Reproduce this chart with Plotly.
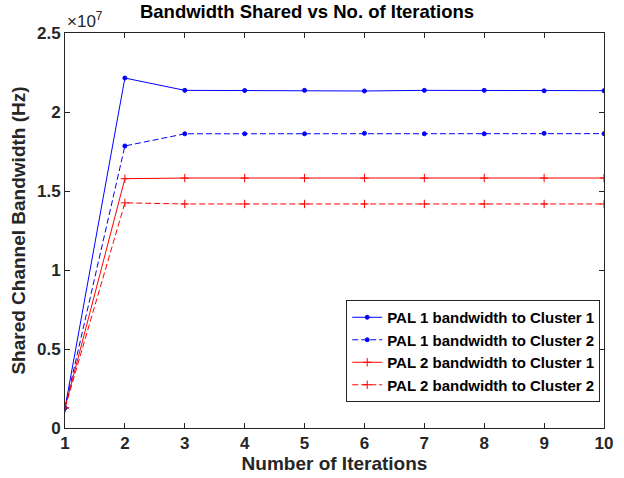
import plotly.graph_objects as go

iterations = [1, 2, 3, 4, 5, 6, 7, 8, 9, 10]
pal1_c1 = [1.27e6, 2.215e7, 2.137e7, 2.136e7, 2.137e7, 2.133e7, 2.137e7, 2.137e7, 2.134e7, 2.135e7]
pal1_c2 = [1.27e6, 1.785e7, 1.862e7, 1.862e7, 1.862e7, 1.865e7, 1.862e7, 1.862e7, 1.865e7, 1.863e7]
pal2_c1 = [1.27e6, 1.578e7, 1.582e7, 1.582e7, 1.582e7, 1.582e7, 1.582e7, 1.582e7, 1.582e7, 1.582e7]
pal2_c2 = [1.27e6, 1.425e7, 1.418e7, 1.418e7, 1.418e7, 1.418e7, 1.418e7, 1.418e7, 1.418e7, 1.418e7]
names = ["PAL 1 bandwidth to Cluster 1", "PAL 1 bandwidth to Cluster 2",
         "PAL 2 bandwidth to Cluster 1", "PAL 2 bandwidth to Cluster 2"]
ytick_vals = [0, 5e6, 1e7, 1.5e7, 2e7, 2.5e7]
ytick_text = ["0", "0.5", "1", "1.5", "2", "2.5"]

styles = [
    ("#0000ff", "solid", "circle", 4),
    ("#0000ff", "6px,3px", "circle", 4),
    ("#ff0000", "solid", "cross-thin-open", 6),
    ("#ff0000", "6px,3px", "cross-thin-open", 6),
]

fig = go.Figure()
for vals, name, (c, d, sym, sz) in zip([pal1_c1, pal1_c2, pal2_c1, pal2_c2], names, styles):
    fig.add_trace(go.Scatter(
        x=iterations, y=vals, name=name, mode="lines+markers",
        line=dict(color=c, width=1, dash=d),
        marker=dict(color=c, symbol=sym, size=sz, line=dict(color=c, width=1)),
    ))

axis_common = dict(
    showline=True, linecolor="#262626", linewidth=1, mirror="ticks",
    ticks="inside", ticklen=5, tickcolor="#262626", showgrid=False, zeroline=False,
    automargin=False,
    tickfont=dict(family="Liberation Sans", size=17, color="#262626", weight="bold"),
)

fig.update_layout(
    width=624, height=478,
    margin=dict(l=65, r=20, t=33, b=50),
    paper_bgcolor="white", plot_bgcolor="white",
    title=dict(text="<b>Bandwidth Shared vs No. of Iterations</b>", x=0.492, xanchor="center",
               y=0.99, yanchor="top",
               font=dict(family="Liberation Sans", size=18.5, color="black")),
    xaxis=dict(range=[1, 10], tickvals=iterations,
               title=dict(text="<b>Number of Iterations</b>", standoff=4,
                          font=dict(family="Liberation Sans", size=19, color="#262626")),
               **axis_common),
    yaxis=dict(range=[0, 2.5e7], tickvals=ytick_vals, ticktext=ytick_text,
               title=dict(text="<b>Shared Channel Bandwidth (Hz)</b>", standoff=6,
                          font=dict(family="Liberation Sans", size=19, color="#262626")),
               **axis_common),
    legend=dict(x=0.993, xanchor="right", y=0.324, yanchor="top",
                bgcolor="white", bordercolor="#262626", borderwidth=1,
                font=dict(family="Liberation Sans", size=15, color="black", weight="bold"),
                tracegroupgap=0, itemwidth=30),
    showlegend=True,
)
fig.add_annotation(text="×10<sup>7</sup>", xref="paper", yref="paper", x=0.0, y=1.0,
                   xanchor="left", yanchor="bottom", showarrow=False,
                   font=dict(family="Liberation Sans", size=17, color="#262626"))

fig.write_html("out.html")
